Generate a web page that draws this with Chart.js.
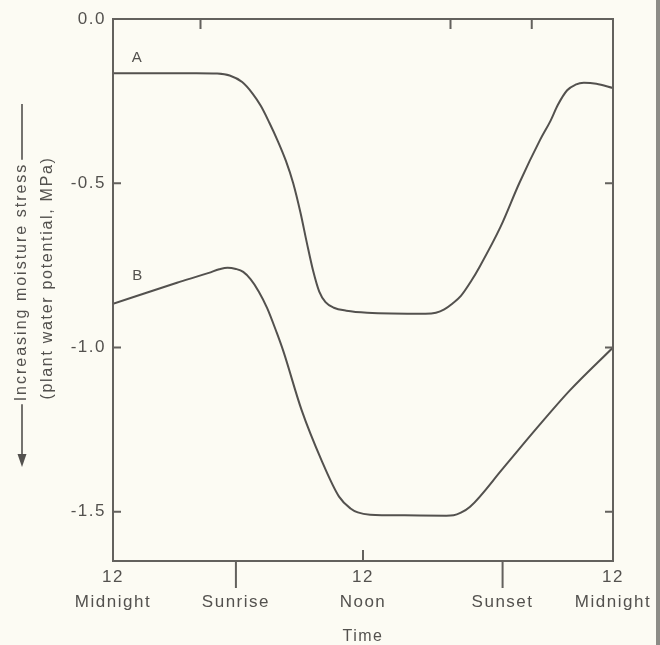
<!DOCTYPE html>
<html>
<head>
<meta charset="utf-8">
<script src="https://cdn.jsdelivr.net/npm/chart.js@4"></script>
<style>
  html, body { margin: 0; padding: 0; background: #fcfbf3; }
  #wrap { position: relative; width: 660px; height: 645px; }
  #edge { position: absolute; right: 0; top: 0; width: 4px; height: 645px; background: #8c8b86; }
</style>
</head>
<body>
<div id="wrap">
  <canvas id="stressChart" width="660" height="645"></canvas>
  <div id="edge"></div>
</div>
<script>
// ── Diurnal plant water potential, curves A and B ───────────
// time in hours after midnight, potential in MPa
const hoursA  = [0, 2, 4, 5.0, 5.6, 6.2, 6.7, 7.1, 7.5, 7.9, 8.3, 8.65, 9.0, 9.3, 9.6, 9.9, 10.2, 10.6, 11.2, 12.2, 15.0, 15.5, 15.9, 16.3, 16.7, 17.2, 17.6, 18.6, 19.5, 20.5, 21.0, 21.35, 21.8, 22.2, 22.6, 23.2, 24];
const stressA = [-0.165, -0.165, -0.165, -0.166, -0.172, -0.192, -0.227, -0.265, -0.315, -0.37, -0.432, -0.5, -0.59, -0.68, -0.765, -0.83, -0.862, -0.879, -0.888, -0.894, -0.897, -0.894, -0.884, -0.866, -0.843, -0.797, -0.754, -0.633, -0.5, -0.368, -0.31, -0.262, -0.217, -0.2, -0.194, -0.197, -0.21];

const hoursB  = [0, 3.07, 4.6, 5.1, 5.5, 5.9, 6.25, 6.6, 7.0, 7.4, 7.86, 8.18, 9.05, 10.0, 10.85, 11.4, 11.75, 12.34, 14.0, 16.0, 16.35, 16.7, 17.14, 18.72, 20.35, 21.94, 24];
const stressB = [-0.867, -0.803, -0.773, -0.762, -0.757, -0.761, -0.77, -0.792, -0.83, -0.88, -0.955, -1.012, -1.19, -1.342, -1.454, -1.49, -1.502, -1.509, -1.511, -1.512, -1.511, -1.503, -1.485, -1.368, -1.245, -1.13, -1.0];

// axis ticks
const timeTicks   = [0, 5.9, 12, 18.7, 24];
const timeLabels  = [["12", "Midnight"], ["", "Sunrise"], ["12", "Noon"], ["", "Sunset"], ["12", "Midnight"]];
const outerTicks  = [5.9, 18.7];
const innerTicks  = [12];
const topTicks    = [4.2, 16.2, 20.1];
const stressTicks = [0, -0.5, -1.0, -1.5];

// curve tags
const curveTags = [
  { text: "A", x: 1.18, y: -0.117 },
  { text: "B", x: 1.2,  y: -0.782 },
];

const INK   = "#53514e";
const FRAME = "#63615d";
const FONT  = "'Liberation Sans', Arial, sans-serif";

const toPoints = (xs, ys) => xs.map((x, i) => ({ x, y: ys[i] }));

// ── Plugins ─────────────────────────────────────────────────
const spacing = {
  id: "spacing",
  beforeDraw(chart) { chart.ctx.letterSpacing = "1.5px"; },
};

const frame = {
  id: "frame",
  afterDatasetsDraw(chart) {
    const { ctx, chartArea: a, scales: { x, y } } = chart;
    ctx.save();
    ctx.strokeStyle = FRAME;
    ctx.lineWidth = 2;
    ctx.strokeRect(a.left, a.top, a.right - a.left, a.bottom - a.top);

    ctx.beginPath();
    stressTicks.filter(v => v !== 0).forEach(v => {
      const py = y.getPixelForValue(v);
      ctx.moveTo(a.left, py);  ctx.lineTo(a.left + 8, py);
      ctx.moveTo(a.right, py); ctx.lineTo(a.right - 8, py);
    });
    topTicks.forEach(v => {
      const px = x.getPixelForValue(v);
      ctx.moveTo(px, a.top); ctx.lineTo(px, a.top + 10);
    });
    outerTicks.forEach(v => {
      const px = x.getPixelForValue(v);
      ctx.moveTo(px, a.bottom); ctx.lineTo(px, a.bottom + 27);
    });
    innerTicks.forEach(v => {
      const px = x.getPixelForValue(v);
      ctx.moveTo(px, a.bottom); ctx.lineTo(px, a.bottom - 11);
    });
    ctx.stroke();

    // curve tags
    ctx.fillStyle = INK;
    ctx.font = `15px ${FONT}`;
    ctx.textAlign = "center";
    ctx.textBaseline = "middle";
    curveTags.forEach(t => ctx.fillText(t.text, x.getPixelForValue(t.x), y.getPixelForValue(t.y)));
    ctx.restore();
  },
};

// rotated y title with the long arrow
const yTitle = {
  id: "yTitle",
  afterDraw(chart) {
    const ctx = chart.ctx;
    ctx.save();
    ctx.fillStyle = INK;
    ctx.strokeStyle = INK;
    ctx.lineWidth = 1.6;
    ctx.font = `16px ${FONT}`;
    ctx.letterSpacing = "2px";
    ctx.textAlign = "center";
    ctx.textBaseline = "middle";

    ctx.save();
    ctx.translate(22, 282);
    ctx.rotate(-Math.PI / 2);
    const label = "Increasing moisture stress";
    const w = ctx.measureText(label).width;
    ctx.fillText(label, 0, 0);
    ctx.beginPath();
    ctx.moveTo(w / 2 + 3, 0);   ctx.lineTo(282 - 104, 0);
    ctx.moveTo(-w / 2 - 3, 0);  ctx.lineTo(-(465 - 282) + 10, 0);
    ctx.stroke();
    ctx.beginPath();
    ctx.moveTo(-(467 - 282), 0);
    ctx.lineTo(-(467 - 282) + 13, -4.5);
    ctx.lineTo(-(467 - 282) + 13, 4.5);
    ctx.closePath();
    ctx.fill();
    ctx.restore();

    ctx.save();
    ctx.letterSpacing = "1.7px";
    ctx.translate(48, 278);
    ctx.rotate(-Math.PI / 2);
    ctx.fillText("(plant water potential, MPa)", 0, 0);
    ctx.restore();

    ctx.restore();
  },
};

// ── Chart ───────────────────────────────────────────────────
const ctx = document.getElementById("stressChart").getContext("2d");

const lineStyle = {
  borderColor: INK,
  borderWidth: 2,
  pointRadius: 0,
  cubicInterpolationMode: "monotone",
  fill: false,
};

new Chart(ctx, {
  type: "line",
  data: {
    datasets: [
      { label: "A", data: toPoints(hoursA, stressA), ...lineStyle },
      { label: "B", data: toPoints(hoursB, stressB), ...lineStyle },
    ],
  },
  options: {
    responsive: false,
    devicePixelRatio: 1,
    animation: false,
    layout: { padding: { top: 19, right: 47, left: 0, bottom: 0 } },
    plugins: {
      legend: { display: false },
      tooltip: { enabled: false },
    },
    scales: {
      x: {
        type: "linear",
        min: 0,
        max: 24,
        grid: { display: false, drawTicks: false },
        border: { display: false },
        afterBuildTicks: (scale) => { scale.ticks = timeTicks.map(v => ({ value: v })); },
        afterFit: (scale) => { scale.height = 84; },
        ticks: {
          autoSkip: false,
          maxRotation: 0,
          padding: 4,
          color: INK,
          font: { family: FONT, size: 17, lineHeight: 1.46 },
          callback: (v, i) => timeLabels[i],
        },
        title: {
          display: true,
          text: "Time",
          color: INK,
          padding: 0,
          font: { family: FONT, size: 16, lineHeight: 1 },
        },
      },
      y: {
        min: -1.65,
        max: 0,
        grid: { display: false, drawTicks: false },
        border: { display: false },
        afterBuildTicks: (scale) => { scale.ticks = stressTicks.map(v => ({ value: v })); },
        afterFit: (scale) => { scale.width = 113; },
        ticks: {
          padding: 7,
          color: INK,
          font: { family: FONT, size: 17 },
          callback: (v) => v.toFixed(1),
        },
      },
    },
  },
  plugins: [spacing, frame, yTitle],
});
</script>
</body>
</html>
